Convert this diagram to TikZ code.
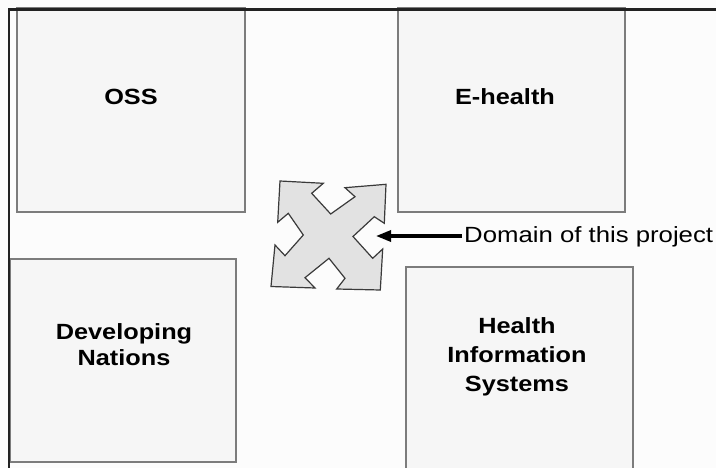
\documentclass[tikz,border=0pt]{standalone}
\usepackage{fontspec}
\setmainfont{Liberation Sans}[FakeStretch=1.15]
\newfontfamily\notefont{Liberation Sans}[FakeStretch=1.17]
\usetikzlibrary{arrows.meta}
\definecolor{boxgray}{HTML}{7C7C7C}
\definecolor{boxfill}{HTML}{F6F6F6}
\definecolor{bgfill}{HTML}{FCFCFC}
\definecolor{framecol}{HTML}{222222}
\definecolor{crossfill}{HTML}{E2E2E2}
\definecolor{crossline}{HTML}{3A3A3A}
\begin{document}
\begin{tikzpicture}[x=1pt,y=-1pt,
  domainbox/.style={draw=boxgray, line width=1.5pt, fill=boxfill, rectangle, inner sep=0pt},
  boxlabel/.style={font=\fontsize{22}{27}\selectfont\bfseries, inner sep=0pt, anchor=base},
  notelabel/.style={font=\notefont\fontsize{22}{24}\selectfont, inner ysep=0pt, inner xsep=2pt, anchor=base west},
  pointer/.style={draw=black, line width=3.2pt, -{Triangle[length=15pt,width=11pt]}},
  crossshape/.style={draw=crossline, line width=1.2pt, fill=crossfill, line join=miter},
  frameline/.style={draw=framecol, line width=2.5pt}]
\useasboundingbox (0,0) rectangle (716,468);
\clip (0,0) rectangle (716,468);
\fill[bgfill] (0,0) rectangle (716,468);

% domain boxes
\node[domainbox, minimum width=228pt, minimum height=204pt] (oss) at (131,110) {};
\node[domainbox, minimum width=227pt, minimum height=204pt] (ehealth) at (511.5,110) {};
\node[domainbox, minimum width=226pt, minimum height=203pt] (devnat) at (123,360.5) {};
\node[domainbox, minimum width=227pt, minimum height=216pt] (his) at (519.5,375) {};

% labels
\node[boxlabel] (osslabel) at (131,105) {OSS};
\node[boxlabel] (ehlabel) at (505,105) {E-health};
\node[boxlabel] (devlabel) at (124,339) {\begin{tabular}[t]{@{}c@{}}Developing\\Nations\end{tabular}};
\node[boxlabel, font=\fontsize{22}{28.7}\selectfont\bfseries] (hislabel) at (517,334) {\begin{tabular}[t]{@{}c@{}}Health\\Information\\Systems\end{tabular}};

% frame
\draw[frameline] (9,468) -- (9,9.5) -- (716,9.5);

% cross of four arrows
\draw[crossshape]
  (280,181) -- (323.3,183.3) -- (311.7,193.3) -- (330.7,214) -- (355,196.7) -- (345,187.7)
  -- (386,184.3) -- (384.3,223.3) -- (374.3,216.7) -- (353,236.5) -- (372.7,258.3) -- (382.7,249)
  -- (380.3,290) -- (336.7,289) -- (345,278.3) -- (329,258.3) -- (305,277.7) -- (315,288)
  -- (271,286.5) -- (275,245) -- (285,255.7) -- (303.3,235) -- (288.3,213.3) -- (277.7,222.3)
  -- cycle;

% pointer and its label
\coordinate (tip) at (376,236);
\node[notelabel] (domain) at (462,243) {Domain of this project};
\draw[pointer] (domain.west |- tip) -- (tip);
\end{tikzpicture}
\end{document}
